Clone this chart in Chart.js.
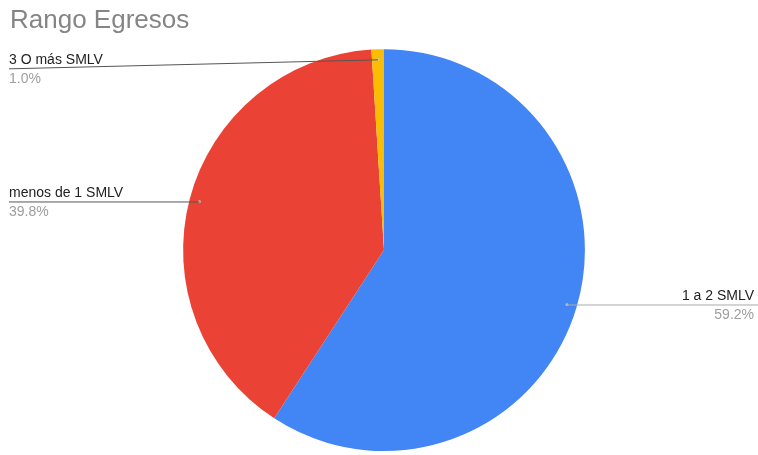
<!DOCTYPE html>
<html>
<head>
<meta charset="utf-8">
<script src="https://cdn.jsdelivr.net/npm/chart.js@4/dist/chart.umd.min.js"></script>
<style>
html,body{margin:0;padding:0;background:#fff;}
#wrap{width:758px;height:455px;position:relative;}
</style>
</head>
<body>
<div id="wrap"><canvas id="c" width="758" height="455"></canvas></div>
<script>
const chartTitle = 'Rango Egresos';
const categories = ['1 a 2 SMLV', 'menos de 1 SMLV', '3 O más SMLV'];
const percentages = [59.2, 39.8, 1.0];
const sliceColors = ['#4285F4', '#EA4335', '#FBBC04'];
const labelSide = ['right', 'left', 'left'];

const FONT = '"Liberation Sans", Arial, sans-serif';

const leaderPlugin = {
  id: 'leaders',
  afterDatasetsDraw(chart) {
    const ctx = chart.ctx;
    const meta = chart.getDatasetMeta(0);
    const W = chart.width;
    ctx.save();
    meta.data.forEach((arc, i) => {
      const mid = (arc.startAngle + arc.endAngle) / 2;
      const r = arc.outerRadius * 0.95;
      const px = arc.x + Math.cos(mid) * r;
      const py = arc.y + Math.sin(mid) * r;
      ctx.fillStyle = 'rgba(200,200,200,0.8)';
      ctx.beginPath(); ctx.arc(px, py, 1.5, 0, Math.PI * 2); ctx.fill();
      let lineY = py;
      if (labelSide[i] === 'left' && py < 90) lineY = py + 9;
      ctx.lineWidth = 1;
      ctx.strokeStyle = labelSide[i] === 'left' ? '#555' : '#aaa';
      ctx.beginPath();
      if (labelSide[i] === 'left') {
        ctx.moveTo(9, lineY + 0.5);
        ctx.lineTo(px, py + 0.5);
      } else {
        ctx.moveTo(px, py + 0.5);
        ctx.lineTo(W, lineY + 0.5);
      }
      ctx.stroke();
      ctx.font = '14px ' + FONT;
      ctx.textBaseline = 'alphabetic';
      const tx = labelSide[i] === 'left' ? 9 : W - 4;
      ctx.textAlign = labelSide[i] === 'left' ? 'left' : 'right';
      ctx.fillStyle = '#222';
      ctx.fillText(categories[i], tx, lineY - 4);
      ctx.fillStyle = '#9e9e9e';
      ctx.fillText(percentages[i].toFixed(1) + '%', tx, lineY + 15);
    });
    ctx.restore();
  }
};

new Chart(document.getElementById('c'), {
  type: 'pie',
  data: {
    labels: categories,
    datasets: [{
      data: percentages,
      backgroundColor: sliceColors,
      borderWidth: 0,
      hoverOffset: 0
    }]
  },
  options: {
    responsive: false,
    animation: false,
    events: [],
    layout: { padding: { top: 0, bottom: 4, left: 10, right: 0 } },
    plugins: {
      legend: { display: false },
      tooltip: { enabled: false },
      title: {
        display: true,
        text: chartTitle,
        align: 'start',
        color: '#858585',
        font: { family: FONT, size: 26, weight: 'normal' },
        padding: { top: 5, bottom: 13 }
      }
    }
  },
  plugins: [leaderPlugin]
});
</script>
</body>
</html>
